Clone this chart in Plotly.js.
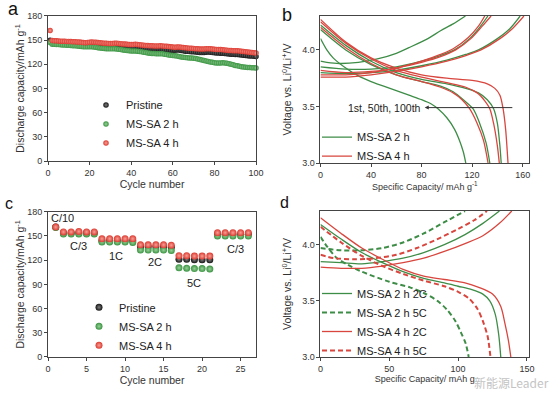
<!DOCTYPE html>
<html>
<head>
<meta charset="utf-8">
<script src="https://cdn.plot.ly/plotly-3.0.1.min.js"></script>
<style>html,body{margin:0;padding:0;background:#fff;}#chart{width:550px;height:393px;}</style>
</head>
<body>
<div id="chart"></div>
<script>
// ---------- Panel a : cycling at fixed rate ----------
const cyclesA = [1,2,3,4,5,6,7,8,9,10,11,12,13,14,15,16,17,18,19,20,21,22,23,24,25,26,27,28,29,30,31,32,33,34,35,36,37,38,39,40,41,42,43,44,45,46,47,48,49,50,51,52,53,54,55,56,57,58,59,60,61,62,63,64,65,66,67,68,69,70,71,72,73,74,75,76,77,78,79,80,81,82,83,84,85,86,87,88,89,90,91,92,93,94,95,96,97,98,99,100];
const aPristine = [150,148,147.9,147.8,147.7,147.5,147.4,147.2,147,146.9,146.8,146.6,146.4,146.2,146,145.7,145.4,145.2,145.4,145.6,145.6,145.4,145.2,144.9,144.6,144.3,144.1,143.9,143.7,143.5,143.5,143.6,143.6,143.3,143,142.6,142.3,142,141.7,141.5,141.4,141.5,141.3,141,140.6,140.2,139.9,139.6,139.3,139.1,139,139,139.1,139,138.7,138.4,138.1,137.8,137.6,137.5,137.6,137.8,137.7,137.3,136.8,136.4,136.1,135.8,135.6,135.5,135.3,135,134.7,134.6,134.8,135.1,135.2,135,134.6,134.3,134.1,134,133.9,133.7,133.4,133.1,132.8,132.6,132.4,132.3,132.2,132,131.7,131.4,131.1,130.8,130.5,130.2,130,129.8];
const aMS2h = [147,145,144.8,144.6,144.5,144.3,144.1,143.9,143.7,143.6,143.4,143.2,143,142.8,142.5,142.2,141.9,141.7,141.8,141.9,141.8,141.5,141.1,140.7,140.3,140,139.7,139.5,139.3,139.2,139.2,139.3,139.1,138.7,138.3,137.9,137.5,137.2,136.9,136.7,136.6,136.6,136.4,136,135.5,135,134.6,134.2,133.9,133.6,133.4,133.2,133.2,133.2,133,132.6,132.1,131.6,131.2,130.9,130.6,130.2,129.7,129.2,128.8,128.4,128.1,127.9,127.8,127.6,127.2,126.6,126,125.4,124.8,124.2,123.6,123,122.5,122.1,121.8,121.7,121.8,121.9,121.8,121.4,120.8,120.1,119.4,118.7,118.1,117.5,117,116.6,116.3,116.1,116,115.9,115.7,115.5];
const aMS4h = [162,149.5,149.3,149.2,149,148.8,148.8,148.6,148.5,148.4,148.2,148.1,148,147.8,147.6,147.3,147,146.9,147.2,147.5,147.6,147.5,147.3,147.1,146.8,146.5,146.3,146.2,146,145.8,145.9,146.1,146.2,146,145.7,145.4,145.1,144.9,144.7,144.6,144.6,144.8,144.7,144.4,144.1,143.8,143.5,143.3,143.1,143,142.9,142.8,142.9,143,142.8,142.6,142.3,142,141.7,141.4,141.3,141.4,141.5,141.2,140.8,140.5,140.3,140.1,139.9,139.7,139.5,139.2,139,138.9,139.1,139.4,139.5,139.3,139,138.7,138.5,138.4,138.3,138.1,137.9,137.6,137.3,137.1,136.9,136.8,136.8,136.6,136.3,136,135.7,135.4,135,134.6,134.3,134];

// ---------- Panel b : charge / discharge, 1st, 50th, 100th ----------
const bG100DisX = [0,5,10,20,30,40,50,60,70,80,88,93,100,106,110,113,115];
const bG100DisY = [4.10,4.00,3.93,3.84,3.77,3.72,3.68,3.64,3.60,3.56,3.52,3.48,3.40,3.30,3.20,3.10,3.00];
const bG50DisX = [0,20,40,60,80,95,105,113,120.7,126,131,134];
const bG50DisY = [4.18,4.00,3.87,3.78,3.72,3.68,3.63,3.56,3.48,3.35,3.18,3.00];
const bG1DisX = [0,20,40,60,80,100,115,125,132,137,140,142,143];
const bG1DisY = [4.22,4.04,3.90,3.80,3.74,3.70,3.66,3.62,3.56,3.48,3.35,3.15,3.00];
const bR100DisX = [0,20,40,60,80,95,105,112,118,124,129,132.6];
const bR100DisY = [4.20,4.02,3.88,3.78,3.72,3.67,3.62,3.56,3.48,3.35,3.20,3.00];
const bR50DisX = [0,20,40,60,80,100,115,124,130,134,137,140,141.5];
const bR50DisY = [4.25,4.06,3.92,3.82,3.76,3.71,3.67,3.62,3.55,3.48,3.35,3.15,3.00];
const bR1DisX = [0,20,40,60,80,100,120,132,138,142,144.5,146.5,147.7,148.4];
const bR1DisY = [4.27,4.07,3.93,3.84,3.78,3.75,3.73,3.70,3.66,3.60,3.48,3.30,3.12,3.00];
const bG100ChgX = [0,5,15,30,45,60,70,85,95,105,114.7];
const bG100ChgY = [3.90,3.89,3.88,3.89,3.92,3.97,4.02,4.10,4.17,4.23,4.30];
const bG50ChgX = [0,20,40,60,80,95,106,118,126,132.5];
const bG50ChgY = [3.85,3.83,3.83,3.85,3.90,3.95,4.00,4.10,4.20,4.30];
const bR100ChgX = [0,20,40,60,80,95,105,117,125,130];
const bR100ChgY = [3.82,3.80,3.81,3.84,3.90,3.96,4.01,4.11,4.21,4.30];
const bR50ChgX = [0,20,40,60,80,95,107,119,128,135];
const bR50ChgY = [3.78,3.78,3.80,3.84,3.89,3.94,4.00,4.10,4.21,4.30];
const bG1ChgX = [0,20,40,60,80,100,115,125,140,150,158];
const bG1ChgY = [3.80,3.79,3.80,3.82,3.86,3.91,3.96,4.00,4.10,4.19,4.30];
const bR1ChgX = [0,20,40,60,80,100,115,127,142,152,161];
const bR1ChgY = [3.76,3.76,3.78,3.81,3.85,3.90,3.95,4.00,4.10,4.19,4.30];

// ---------- Panel c : rate capability ----------
const cyclesC = [1,2,3,4,5,6,7,8,9,10,11,12,13,14,15,16,17,18,19,20,21,22,23,24,25,26];
const cPristine = [161,153.5,153.5,153.5,153.5,153.5,144,144,144,144,144,136.5,136.5,136.5,136.5,136,121,121,120.5,120.5,120.5,152,152,152,152,152];
const cMS2h = [160.5,152.5,152.5,152.5,152.5,152.5,142.5,142.5,142.5,142.5,142,132.5,132.5,132.5,132.5,132,110.5,110,109.5,109.5,109,150,150,150,150,150];
const cMS4h = [161,155,155,155.5,155,155,146.5,146.5,146.5,146.5,146.5,139,139,139,139,138.5,125.5,125.5,125,125,125,154,154,154,154,154];
const cRateLabels = ['C/10','C/3','1C','2C','5C','C/3'];
const cRateX = [1.85,4.0,8.85,13.9,18.9,24.3];
const cRateY = [172.6,137.5,125,117.3,92,133.8];

// ---------- Panel d : 2C vs 5C ----------
const dG2CDisX = [0,15,30,45,60,75,90,100,110,118,123,127,129.5,131];
const dG2CDisY = [4.18,4.05,3.93,3.84,3.76,3.70,3.66,3.63,3.60,3.56,3.50,3.38,3.20,3.00];
const dG5CDisX = [0,5,12,20,30,50,65,75,85,92,98,102,105.5,107.7];
const dG5CDisY = [4.07,3.98,3.88,3.82,3.76,3.67,3.62,3.57,3.50,3.42,3.32,3.22,3.12,3.00];
const dR2CDisX = [0,15,30,45,60,75,90,105,115,125,131,134,136.5,138.3];
const dR2CDisY = [4.24,4.10,3.97,3.87,3.78,3.72,3.69,3.66,3.62,3.56,3.45,3.30,3.15,3.00];
const dR5CDisX = [0,15,30,45,60,75,90,100,108,114,118,121.5,123.5];
const dR5CDisY = [4.16,4.02,3.90,3.81,3.74,3.68,3.63,3.58,3.52,3.43,3.32,3.18,3.00];
const dG5CChgX = [0,15,30,45,60,75,90,105];
const dG5CChgY = [3.97,3.95,3.95,3.97,4.02,4.10,4.20,4.30];
const dR5CChgX = [0,10,25,40,55,70,85,100,112,121];
const dR5CChgY = [3.91,3.88,3.87,3.88,3.91,3.97,4.05,4.14,4.22,4.30];
const dG2CChgX = [0,15,30,45,60,75,90,105,118,130];
const dG2CChgY = [3.85,3.84,3.83,3.85,3.88,3.93,4.00,4.09,4.19,4.30];
const dR2CChgX = [0,15,30,45,60,75,90,105,118,130,139];
const dR2CChgY = [3.80,3.79,3.79,3.81,3.84,3.88,3.94,4.01,4.08,4.19,4.30];

// ---------- styles ----------
const FONT = 'Liberation Sans, Arial, sans-serif';
const RED = '#dd3a30', GREEN = '#3a9442', BLACK = '#151515';
const LRED = '#d8463e', LGREEN = '#3e8d47';
const grad = {red:'#f4a097', green:'#98d098', black:'#808080'};

function mk(x, y, color, light, name, xa, ya, lg, size, show){
  return {type:'scatter', mode:'markers', x:x, y:y, name:name, xaxis:xa, yaxis:ya,
    legend:lg, showlegend:show, cliponaxis:false,
    marker:{size:size, color:color, line:{width:0}, gradient:{type:'radial', color:light}}};
}
function ln(x, y, color, name, xa, ya, lg, show, group, dash){
  return {type:'scatter', mode:'lines', x:x, y:y, name:name, xaxis:xa, yaxis:ya,
    legend:lg, showlegend:show, legendgroup:group,
    line:{color:color, width:dash ? 2 : 1.3, shape:'spline', smoothing:0.8, dash:dash || 'solid'}};
}

const traces = [
  mk(cyclesA, aPristine, BLACK, grad.black, 'Pristine', 'x', 'y', 'legend', 5.5, true),
  mk(cyclesA, aMS2h, GREEN, grad.green, 'MS-SA 2 h', 'x', 'y', 'legend', 5.5, true),
  mk(cyclesA, aMS4h, RED, grad.red, 'MS-SA 4 h', 'x', 'y', 'legend', 5.5, true),

  ln(bG100DisX, bG100DisY, LGREEN, 'MS-SA 2 h', 'x2', 'y2', 'legend2', true, 'b2'),
  ln(bG50DisX, bG50DisY, LGREEN, 'MS-SA 2 h', 'x2', 'y2', 'legend2', false, 'b2'),
  ln(bG1DisX, bG1DisY, LGREEN, 'MS-SA 2 h', 'x2', 'y2', 'legend2', false, 'b2'),
  ln(bG100ChgX, bG100ChgY, LGREEN, 'MS-SA 2 h', 'x2', 'y2', 'legend2', false, 'b2'),
  ln(bG50ChgX, bG50ChgY, LGREEN, 'MS-SA 2 h', 'x2', 'y2', 'legend2', false, 'b2'),
  ln(bG1ChgX, bG1ChgY, LGREEN, 'MS-SA 2 h', 'x2', 'y2', 'legend2', false, 'b2'),
  ln(bR100DisX, bR100DisY, LRED, 'MS-SA 4 h', 'x2', 'y2', 'legend2', true, 'b4'),
  ln(bR50DisX, bR50DisY, LRED, 'MS-SA 4 h', 'x2', 'y2', 'legend2', false, 'b4'),
  ln(bR1DisX, bR1DisY, LRED, 'MS-SA 4 h', 'x2', 'y2', 'legend2', false, 'b4'),
  ln(bR100ChgX, bR100ChgY, LRED, 'MS-SA 4 h', 'x2', 'y2', 'legend2', false, 'b4'),
  ln(bR50ChgX, bR50ChgY, LRED, 'MS-SA 4 h', 'x2', 'y2', 'legend2', false, 'b4'),
  ln(bR1ChgX, bR1ChgY, LRED, 'MS-SA 4 h', 'x2', 'y2', 'legend2', false, 'b4'),

  mk(cyclesC, cPristine, BLACK, grad.black, 'Pristine', 'x3', 'y3', 'legend3', 7, true),
  mk(cyclesC, cMS2h, GREEN, grad.green, 'MS-SA 2 h', 'x3', 'y3', 'legend3', 7, true),
  mk(cyclesC, cMS4h, RED, grad.red, 'MS-SA 4 h', 'x3', 'y3', 'legend3', 7, true),

  ln(dG2CDisX, dG2CDisY, LGREEN, 'MS-SA 2 h 2C', 'x4', 'y4', 'legend4', true, 'd1'),
  ln(dG2CChgX, dG2CChgY, LGREEN, 'MS-SA 2 h 2C', 'x4', 'y4', 'legend4', false, 'd1'),
  ln(dG5CDisX, dG5CDisY, LGREEN, 'MS-SA 2 h 5C', 'x4', 'y4', 'legend4', true, 'd2', '5px,3px'),
  ln(dG5CChgX, dG5CChgY, LGREEN, 'MS-SA 2 h 5C', 'x4', 'y4', 'legend4', false, 'd2', '5px,3px'),
  ln(dR2CDisX, dR2CDisY, LRED, 'MS-SA 4 h 2C', 'x4', 'y4', 'legend4', true, 'd3'),
  ln(dR2CChgX, dR2CChgY, LRED, 'MS-SA 4 h 2C', 'x4', 'y4', 'legend4', false, 'd3'),
  ln(dR5CDisX, dR5CDisY, LRED, 'MS-SA 4 h 5C', 'x4', 'y4', 'legend4', true, 'd4', '5px,3px'),
  ln(dR5CChgX, dR5CChgY, LRED, 'MS-SA 4 h 5C', 'x4', 'y4', 'legend4', false, 'd4', '5px,3px')
];

function ax(extra){
  return Object.assign({showline:true, linecolor:'#444', linewidth:1, mirror:true,
    ticks:'outside', ticklen:3, tickwidth:1, tickcolor:'#444',
    tickfont:{family:FONT, size:9, color:'#333'}, showgrid:false, zeroline:false,
    automargin:false}, extra);
}
function ttl(t, size, standoff){ return {text:t, standoff:standoff, font:{family:FONT, size:size, color:'#333'}}; }
function leg(x, y){
  return {x:x, y:y, xanchor:'left', yanchor:'middle', bgcolor:'rgba(0,0,0,0)',
    font:{family:FONT, size:11, color:'#222'}, borderwidth:0, tracegroupgap:0};
}

const annotations = [
  {text:'a', xref:'paper', yref:'paper', x:0.0115, y:0.9453, xanchor:'left', yanchor:'bottom', showarrow:false, font:{family:FONT, size:18, color:'#111'}},
  {text:'b', xref:'paper', yref:'paper', x:0.509, y:0.9318, xanchor:'left', yanchor:'bottom', showarrow:false, font:{family:FONT, size:18, color:'#111'}},
  {text:'c', xref:'paper', yref:'paper', x:0.0055, y:0.4562, xanchor:'left', yanchor:'bottom', showarrow:false, font:{family:FONT, size:16, color:'#111'}},
  {text:'d', xref:'paper', yref:'paper', x:0.5055, y:0.457, xanchor:'left', yanchor:'bottom', showarrow:false, font:{family:FONT, size:16, color:'#111'}},
  {text:'1st, 50th, 100th', xref:'x2', yref:'y2', x:81, y:3.49, xanchor:'right', yanchor:'middle', showarrow:false, font:{family:FONT, size:10.5, color:'#222'}},
  {text:'', xref:'x2', yref:'y2', x:82.5, y:3.49, axref:'x2', ayref:'y2', ax:153, ay:3.49, showarrow:true, arrowhead:2, arrowsize:0.8, arrowwidth:1, arrowcolor:'#333'},
  {text:'新能源Leader', xref:'paper', yref:'paper', x:472/550, y:1-382/393, xanchor:'left', yanchor:'middle', showarrow:false, font:{family:'Noto Sans CJK SC, sans-serif', size:12, color:'#c4c4c4'}}
];
for (let i = 0; i < cRateLabels.length; i++) {
  annotations.push({text:cRateLabels[i], xref:'x3', yref:'y3', x:cRateX[i], y:cRateY[i], showarrow:false, font:{family:FONT, size:11, color:'#222'}});
}

const layout = {
  width:550, height:393, margin:{l:0, r:0, t:0, b:0}, paper_bgcolor:'#fff', plot_bgcolor:'#fff',
  font:{family:FONT},
  xaxis: ax({domain:[0.0873,0.4655], range:[0,100], dtick:20, anchor:'y', title:ttl('Cycle number', 10.5, 2)}),
  yaxis: ax({domain:[0.5903,0.9593], range:[0,180], dtick:30, anchor:'x', title:ttl('Discharge capacity/mAh g<sup>-1</sup>', 10.5, 0)}),
  xaxis2: ax({domain:[0.5827,0.9618], range:[0,165], dtick:40, anchor:'y2', title:ttl('Specific Capacity/ mAh g<sup>-1</sup>', 9, 2)}),
  yaxis2: ax({domain:[0.5852,0.9593], range:[3,4.3], tick0:3, dtick:0.5, tickformat:'.1f', anchor:'x2', title:ttl('Voltage vs. Li<sup>0</sup>/Li<sup>+</sup>/V', 10.5, 8)}),
  xaxis3: ax({domain:[0.0873,0.4655], range:[0,27], dtick:5, anchor:'y3', title:ttl('Cycle number', 10.5, 2)}),
  yaxis3: ax({domain:[0.0916,0.4613], range:[0,180], dtick:30, anchor:'x3', title:ttl('Discharge capacity/mAh g<sup>-1</sup>', 10.5, 0)}),
  xaxis4: ax({domain:[0.5827,0.9618], range:[0,151.5], dtick:50, anchor:'y4', title:ttl('Specific Capacity/ mAh g', 9, 2)}),
  yaxis4: ax({domain:[0.0916,0.4631], range:[3,4.3], tick0:3, dtick:0.5, tickformat:'.1f', anchor:'x4', title:ttl('Voltage vs. Li<sup>0</sup>/Li<sup>+</sup>/V', 10.5, 8)}),
  legend: leg(86/550, 1-124/393),
  legend2: leg(317/550, 1-146.7/393),
  legend3: leg(79/550, 1-326.3/393),
  legend4: leg(317/550, 1-322/393),
  annotations: annotations
};

Plotly.newPlot('chart', traces, layout, {staticPlot:true, displayModeBar:false});
</script>
</body>
</html>
